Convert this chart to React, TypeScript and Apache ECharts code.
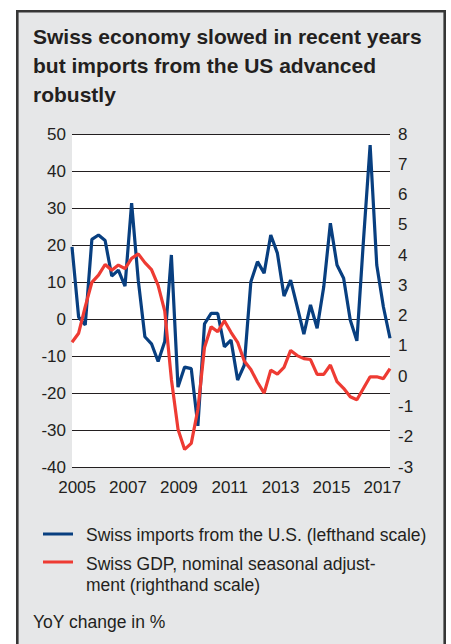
import { useEffect, useRef } from 'react';
import * as echarts from 'echarts';

const quarters = [
  '2005Q1', '2005Q2', '2005Q3', '2005Q4', '2006Q1', '2006Q2', '2006Q3', '2006Q4',
  '2007Q1', '2007Q2', '2007Q3', '2007Q4', '2008Q1', '2008Q2', '2008Q3', '2008Q4',
  '2009Q1', '2009Q2', '2009Q3', '2009Q4', '2010Q1', '2010Q2', '2010Q3', '2010Q4',
  '2011Q1', '2011Q2', '2011Q3', '2011Q4', '2012Q1', '2012Q2', '2012Q3', '2012Q4',
  '2013Q1', '2013Q2', '2013Q3', '2013Q4', '2014Q1', '2014Q2', '2014Q3', '2014Q4',
  '2015Q1', '2015Q2', '2015Q3', '2015Q4', '2016Q1', '2016Q2', '2016Q3', '2016Q4',
  '2017Q1',
];

// Swiss imports from the U.S., YoY % (left scale)
const importsUS = [
  19.5, 0.5, -1.6, 21.5, 22.7, 21.2, 11.6, 13.2,
  8.9, 31.3, 10.5, -4.8, -6.7, -11.5, -6.1, 17.3,
  -18.4, -13.0, -13.4, -28.9, -1.3, 1.5, 1.5, -7.5,
  -5.7, -16.5, -12.5, 10.1, 15.5, 12.4, 22.7, 17.8,
  6.2, 10.5, 3.3, -4.1, 3.8, -2.5, 8.7, 25.9,
  14.6, 11.0, -0.3, -5.9, 21.4, 47.0, 14.6, 3.3,
  -5.2,
];

// Swiss GDP, nominal, seasonally adjusted, YoY % (right scale)
const gdpNominal = [
  1.12, 1.42, 2.3, 3.1, 3.34, 3.69, 3.5, 3.67,
  3.55, 3.89, 4.04, 3.75, 3.52, 3.0, 2.15, -0.1,
  -1.75, -2.42, -2.22, -1.1, 0.95, 1.63, 1.47, 1.83,
  1.45, 1.12, 0.5, 0.22, -0.2, -0.56, 0.2, 0.07,
  0.29, 0.85, 0.68, 0.58, 0.55, 0.06, 0.06, 0.37,
  -0.18, -0.4, -0.68, -0.78, -0.4, -0.02, -0.02, -0.08,
  0.25,
];

const yearLabels = ['2005', '2007', '2009', '2011', '2013', '2015', '2017'];
const leftScale = { min: -40, max: 50, step: 10 };
const rightScale = { min: -3, max: 8, step: 1 };

const seriesNames = [
  'Swiss imports from the U.S. (lefthand scale)',
  'Swiss GDP, nominal seasonal adjust-\nment (righthand scale)',
];
const titleText = 'Swiss economy slowed in recent years\nbut imports from the US advanced\nrobustly';
const noteText = 'YoY change in %';

const BLUE = '#083f80';
const RED = '#ee3b33';
const INK = '#231f20';
const FONT = '"Liberation Sans", Arial, Helvetica, sans-serif';

// label slots for the year axis (labels evenly spread, as in the original)
const LABEL_SLOTS = 126;
const labelAxisData: string[] = Array.from({ length: LABEL_SLOTS }, () => '');
yearLabels.forEach((y, j) => {
  labelAxisData[2 + j * 20] = y;
});

export default function App() {
  const ref = useRef<HTMLDivElement>(null);

  useEffect(() => {
    if (!ref.current) return;
    const chart = echarts.init(ref.current, undefined, { renderer: 'svg' });
    chart.setOption({
      animation: false,
      backgroundColor: '#ffffff',
      title: {
        text: titleText,
        left: 33,
        top: 22,
        padding: 0,
        textStyle: {
          fontFamily: FONT,
          fontSize: 21,
          fontWeight: 'bold',
          lineHeight: 29,
          color: INK,
        },
      },
      graphic: [
        {
          type: 'rect',
          z: -100,
          shape: { x: 17.3, y: 11.2, width: 427.4, height: 700 },
          style: { fill: '#e6e7e8', stroke: '#363636', lineWidth: 2.6 },
        },
        {
          type: 'line',
          shape: { x1: 43, y1: 534, x2: 73, y2: 534 },
          style: { stroke: BLUE, lineWidth: 3 },
        },
        {
          type: 'line',
          shape: { x1: 43, y1: 562, x2: 73, y2: 562 },
          style: { stroke: RED, lineWidth: 3 },
        },
        {
          type: 'text',
          x: 86,
          y: 535,
          style: {
            text: seriesNames[0],
            font: `17.5px ${FONT}`,
            fill: INK,
            verticalAlign: 'middle',
          },
        },
        {
          type: 'text',
          x: 86,
          y: 553,
          style: {
            text: seriesNames[1],
            font: `17.5px ${FONT}`,
            lineHeight: 21,
            fill: INK,
            verticalAlign: 'top',
          },
        },
        {
          type: 'text',
          x: 33,
          y: 622,
          style: {
            text: noteText,
            font: `17.5px ${FONT}`,
            fill: INK,
            verticalAlign: 'middle',
          },
        },
      ],
      grid: {
        left: 72,
        top: 134,
        width: 318,
        height: 333,
        show: true,
        backgroundColor: '#ffffff',
        borderWidth: 0,
      },
      xAxis: [
        {
          type: 'category',
          data: quarters,
          boundaryGap: false,
          axisLine: { show: false },
          axisTick: { show: false },
          axisLabel: { show: false },
          splitLine: { show: false },
        },
        {
          type: 'category',
          data: labelAxisData,
          boundaryGap: false,
          position: 'bottom',
          axisLine: { show: false },
          axisTick: { show: false },
          splitLine: { show: false },
          axisLabel: {
            interval: 0,
            margin: 12,
            fontFamily: FONT,
            fontSize: 17,
            color: INK,
          },
        },
      ],
      yAxis: [
        {
          type: 'value',
          min: leftScale.min,
          max: leftScale.max,
          interval: leftScale.step,
          axisLine: { show: false },
          axisTick: { show: false },
          axisLabel: { margin: 6, fontFamily: FONT, fontSize: 17, color: INK },
          splitLine: { show: true, lineStyle: { color: INK, width: 1.2 } },
        },
        {
          type: 'value',
          min: rightScale.min,
          max: rightScale.max,
          interval: rightScale.step,
          position: 'right',
          axisLine: { show: false },
          axisTick: { show: false },
          axisLabel: { margin: 8, fontFamily: FONT, fontSize: 17, color: INK },
          splitLine: { show: false },
        },
      ],
      series: [
        {
          name: seriesNames[0],
          type: 'line',
          xAxisIndex: 0,
          yAxisIndex: 0,
          data: importsUS,
          symbol: 'none',
          lineStyle: { color: BLUE, width: 3.2 },
          z: 3,
        },
        {
          name: seriesNames[1],
          type: 'line',
          xAxisIndex: 0,
          yAxisIndex: 1,
          data: gdpNominal,
          symbol: 'none',
          lineStyle: { color: RED, width: 3.2 },
          z: 4,
        },
      ],
    });
    return () => chart.dispose();
  }, []);

  return (
    <div
      ref={ref}
      style={{ position: 'fixed', left: 0, top: 0, width: 451, height: 644 }}
    />
  );
}
